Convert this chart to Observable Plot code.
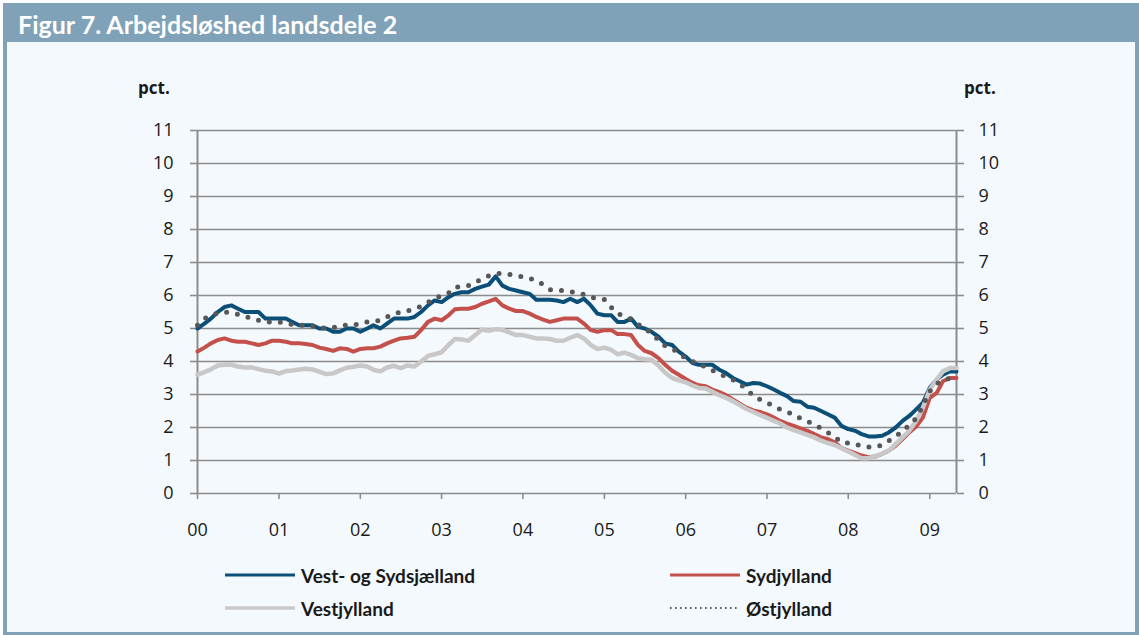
<!DOCTYPE html>
<html>
<head>
<meta charset="utf-8">
<script src="https://cdn.jsdelivr.net/npm/d3@7"></script>
<script src="https://cdn.jsdelivr.net/npm/@observablehq/plot@0.6"></script>
<style>
  html, body { margin: 0; padding: 0; background: #ffffff; }
  #page { position: relative; width: 1139px; height: 635px; overflow: hidden; }
  #frame { position: absolute; left: 3px; top: 3px; width: 1136px; height: 632px; box-sizing: border-box;
           background: #f4f9fd; border-left: 4px solid #7fa2b8; border-right: 4px solid #7fa2b8; border-bottom: 3px solid #7fa2b8; }
  #titlebar { position: absolute; left: 3px; top: 3px; width: 1136px; height: 39px; background: #7fa2b8; }
  #title { position: absolute; left: 18px; top: 3px; height: 39px; line-height: 42px; color: #ffffff;
           font-family: Lato, "Open Sans", sans-serif; font-weight: 700; font-size: 25px; white-space: nowrap; }
  .unit { position: absolute; top: 76px; font-family: "Open Sans", sans-serif; font-weight: 700; font-size: 17px; color: #1a1a1a; }
  #chart { position: absolute; left: 0; top: 0; }
  .leg { position: absolute; height: 24px; display: flex; align-items: center; font-family: Lato, sans-serif; font-weight: 700; font-size: 19px; color: #1a1a1a; white-space: nowrap; }
  .leg svg { margin-right: 6px; }
</style>
</head>
<body>
<div id="page">
  <div id="frame"></div>
  <div id="titlebar"></div>
  <div id="title">Figur 7. Arbejdsløshed landsdele 2</div>
  <div class="unit" style="left:138px">pct.</div>
  <div class="unit" style="left:964px">pct.</div>
  <div id="chart"></div>
  <div id="legend"></div>
</div>
<script>
// Monthly observations, Jan 2000 – May 2009 (pct.)
const vestSydsjaelland = [
  5.0, 5.15, 5.3, 5.5, 5.65, 5.7, 5.6, 5.5, 5.5, 5.5, 5.3, 5.3,
  5.3, 5.3, 5.2, 5.1, 5.1, 5.1, 5.0, 5.0, 4.9, 4.9, 5.0, 5.0,
  4.9, 5.0, 5.1, 5.0, 5.15, 5.3, 5.3, 5.3, 5.35, 5.5, 5.7, 5.85,
  5.8, 5.95, 6.05, 6.1, 6.1, 6.2, 6.27, 6.33, 6.58, 6.3, 6.2, 6.15,
  6.1, 6.05, 5.87, 5.87, 5.87, 5.85, 5.8, 5.9, 5.8, 5.9, 5.7, 5.45,
  5.4, 5.4, 5.2, 5.2, 5.3, 5.05, 5.0, 4.9, 4.75, 4.55, 4.5, 4.3,
  4.15, 3.95, 3.9, 3.9, 3.9, 3.75, 3.65, 3.5, 3.4, 3.3, 3.35, 3.33,
  3.25, 3.15, 3.05, 2.95, 2.8, 2.78, 2.63, 2.6, 2.5, 2.4, 2.3, 2.05,
  1.95, 1.9, 1.8, 1.73, 1.73, 1.75, 1.85, 2.0, 2.2, 2.35, 2.55, 2.75,
  3.2, 3.45, 3.6, 3.7, 3.7
];
const sydjylland = [
  4.3, 4.42, 4.55, 4.65, 4.7, 4.63, 4.6, 4.6, 4.55, 4.5, 4.55, 4.63,
  4.63, 4.6, 4.55, 4.55, 4.53, 4.5, 4.42, 4.38, 4.32, 4.4, 4.38, 4.3,
  4.38, 4.4, 4.4, 4.45, 4.55, 4.63, 4.7, 4.72, 4.75, 4.95, 5.2, 5.3,
  5.25, 5.4, 5.58, 5.6, 5.6, 5.65, 5.75, 5.82, 5.9, 5.7, 5.6, 5.53,
  5.53, 5.45, 5.35, 5.27, 5.2, 5.25, 5.3, 5.3, 5.3, 5.15, 4.95, 4.9,
  4.95, 4.95, 4.83, 4.83, 4.8, 4.5, 4.32, 4.25, 4.1, 3.9, 3.72, 3.6,
  3.47, 3.35, 3.28, 3.25, 3.15, 3.07, 2.98, 2.85, 2.72, 2.6, 2.52, 2.47,
  2.4, 2.3, 2.2, 2.12, 2.05, 1.97, 1.9, 1.8, 1.7, 1.65, 1.55, 1.38,
  1.3, 1.22, 1.15, 1.1, 1.12, 1.2, 1.3, 1.45, 1.65, 1.85, 2.03, 2.3,
  2.9, 3.05, 3.4, 3.5, 3.5
];
const vestjylland = [
  3.6, 3.68, 3.76, 3.88, 3.9, 3.9, 3.85, 3.82, 3.82, 3.77, 3.72, 3.7,
  3.63, 3.71, 3.73, 3.76, 3.78, 3.76, 3.69, 3.62, 3.64, 3.73, 3.81, 3.84,
  3.88, 3.85, 3.75, 3.7, 3.82, 3.87, 3.8, 3.88, 3.85, 4.0, 4.17, 4.22,
  4.28, 4.5, 4.68, 4.67, 4.63, 4.8, 4.97, 4.93, 4.98, 4.96, 4.88, 4.8,
  4.8, 4.75, 4.7, 4.7, 4.68, 4.63, 4.63, 4.72, 4.8, 4.7, 4.5, 4.38,
  4.42, 4.35, 4.22, 4.27, 4.2, 4.1, 4.07, 4.05, 3.88, 3.66, 3.5, 3.43,
  3.37, 3.27, 3.2, 3.18, 3.08, 2.98, 2.9, 2.8, 2.68, 2.56, 2.47, 2.38,
  2.29, 2.2, 2.12, 2.0, 1.92, 1.85, 1.78, 1.7, 1.6, 1.53, 1.47, 1.37,
  1.27, 1.17, 1.07, 1.07, 1.13, 1.2, 1.3, 1.5, 1.7, 1.9, 2.2, 2.6,
  3.15, 3.45, 3.7, 3.8, 3.8
];
const oestjylland = [
  5.1, 5.3, 5.4, 5.47, 5.5, 5.48, 5.43, 5.37, 5.3, 5.25, 5.2, 5.2,
  5.2, 5.15, 5.12, 5.1, 5.1, 5.07, 5.0, 5.02, 5.03, 5.08, 5.1, 5.1,
  5.15, 5.2, 5.2, 5.25, 5.35, 5.43, 5.5, 5.53, 5.6, 5.67, 5.8, 5.9,
  6.0, 6.07, 6.25, 6.27, 6.3, 6.4, 6.5, 6.6, 6.66, 6.67, 6.64, 6.6,
  6.57, 6.52, 6.45, 6.33, 6.18, 6.15, 6.15, 6.12, 6.07, 6.03, 5.95, 5.9,
  5.88, 5.64, 5.45, 5.38, 5.28, 5.13, 5.0, 4.85, 4.65, 4.47, 4.4, 4.25,
  4.1, 4.0, 3.92, 3.83, 3.73, 3.63, 3.54, 3.45, 3.3, 3.18, 2.95, 2.85,
  2.75, 2.65, 2.55, 2.47, 2.4, 2.27, 2.18, 2.1, 1.97, 1.85, 1.72, 1.55,
  1.53, 1.5, 1.43, 1.41, 1.41, 1.47, 1.6, 1.72, 1.9, 2.07, 2.28, 2.65,
  3.1, 3.33, 3.4, 3.5, 3.55
];
const seriesNames = ["Vest- og Sydsjælland", "Sydjylland", "Vestjylland", "Østjylland"];
const yearLabels = ["00", "01", "02", "03", "04", "05", "06", "07", "08", "09"];
const yTicks = [0, 1, 2, 3, 4, 5, 6, 7, 8, 9, 10, 11];

const months = d3.utcMonths(new Date(Date.UTC(2000, 0, 1)), new Date(Date.UTC(2009, 5, 1)));
const yearDates = yearLabels.map((_, i) => new Date(Date.UTC(2000 + i, 0, 1)));

const colors = { blue: "#0b4f78", red: "#c4504c", gray: "#c8c8c8", dot: "#575757" };
const axisColor = "#8c8c8c";

const chart = Plot.plot({
  width: 1139,
  height: 545,
  marginLeft: 197,
  marginRight: 183,
  marginTop: 130,
  marginBottom: 52,
  style: { background: "transparent", fontFamily: "'Open Sans', sans-serif", fontSize: "18px", color: "#1a1a1a", overflow: "visible" },
  x: { type: "utc", domain: [months[0], months[months.length - 1]] },
  y: { domain: [0, 11] },
  marks: [
    Plot.ruleY(yTicks, { stroke: axisColor, strokeWidth: 1.6 }),
    Plot.axisY({ anchor: "left", ticks: yTicks, tickSize: 7, tickPadding: 17, stroke: axisColor, strokeWidth: 1.6, fill: "#1a1a1a", fontSize: 18, label: null }),
    Plot.axisY({ anchor: "right", ticks: yTicks, tickSize: 7, tickPadding: 15, stroke: axisColor, strokeWidth: 1.6, fill: "#1a1a1a", fontSize: 18, label: null }),
    Plot.axisX({ ticks: yearDates, tickFormat: d => yearLabels[d.getUTCFullYear() - 2000], tickSize: 6, tickPadding: 24, stroke: axisColor, strokeWidth: 1.6, fill: "#1a1a1a", fontSize: 18, label: null }),
    Plot.ruleX([months[0], months[months.length - 1]], { stroke: axisColor, strokeWidth: 2 }),
    Plot.line(months, { x: d => d, y: vestSydsjaelland, stroke: colors.blue, strokeWidth: 4, strokeLinejoin: "round" }),
    Plot.line(months, { x: d => d, y: sydjylland, stroke: colors.red, strokeWidth: 4, strokeLinejoin: "round" }),
    Plot.line(months, { x: d => d, y: vestjylland, stroke: colors.gray, strokeWidth: 4.5, strokeLinejoin: "round" }),
    Plot.line(months, { x: d => d, y: oestjylland, stroke: colors.dot, strokeWidth: 5, strokeDasharray: "0 11", strokeLinecap: "round" })
  ]
});
document.getElementById("chart").appendChild(chart);

// Legend
const legendItems = [
  { name: seriesNames[0], color: colors.blue, width: 3, dash: null, left: 225, top: 563 },
  { name: seriesNames[1], color: colors.red, width: 3, dash: null, left: 670, top: 563 },
  { name: seriesNames[2], color: colors.gray, width: 3.5, dash: null, left: 225, top: 596 },
  { name: seriesNames[3], color: colors.dot, width: 2, dash: "1.6 3.4", left: 670, top: 596 }
];
const legend = document.getElementById("legend");
for (const it of legendItems) {
  const div = document.createElement("div");
  div.className = "leg";
  div.style.left = it.left + "px";
  div.style.top = it.top + "px";
  div.innerHTML = `<svg width="70" height="10"><line x1="0" x2="70" y1="5" y2="5" stroke="${it.color}" stroke-width="${it.width}" ${it.dash ? `stroke-dasharray="${it.dash}"` : ""}/></svg><span>${it.name}</span>`;
  legend.appendChild(div);
}
</script>
</body>
</html>
